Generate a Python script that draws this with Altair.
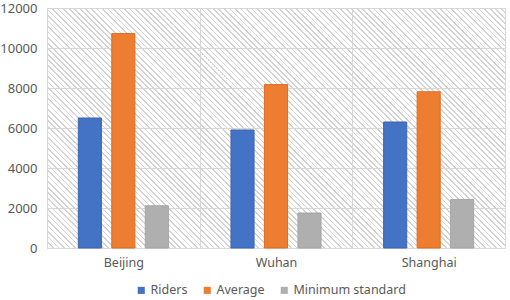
import altair as alt
import pandas as pd

cities = ["Beijing", "Wuhan", "Shanghai"]
series = ["Riders", "Average", "Minimum standard"]
riders = [6500, 5900, 6300]
average = [10720, 8170, 7810]
minimum = [2110, 1750, 2420]
colors = ["#4472C4", "#ED7D31", "#AFAFAF"]
strokes = ["#3B65B2", "#E06C1C", "#A5A5A5"]
y_ticks = [0, 2000, 4000, 6000, 8000, 10000, 12000]

rows = []
for i, c in enumerate(cities):
    for s, vals in zip(series, [riders, average, minimum]):
        rows.append({"city": c, "series": s, "value": vals[i]})
df = pd.DataFrame(rows)

# plot area size
W, H = 458, 240

# diagonal hatch background built as a striped linear gradient (style only)
r = H / W
dx = (1 + r) / (1 + r * r)
dy = -r * dx
N = 126
f = 0.3
clear = "rgba(255,255,255,0)"
hatch = "#d4d4d4"
stops = []
for k in range(N):
    s = k / N
    e = (k + f) / N
    stops += [
        {"offset": s, "color": clear},
        {"offset": s, "color": hatch},
        {"offset": e, "color": hatch},
        {"offset": e, "color": clear},
    ]
stops.append({"offset": 1, "color": clear})
grad = {"gradient": "linear", "x1": 0, "y1": 1, "x2": dx, "y2": 1 + dy, "stops": stops}

bg = alt.Chart(pd.DataFrame({"k": [0]})).mark_rect(fill=grad, strokeWidth=0).encode(
    x=alt.value(0), x2=alt.value("width"), y=alt.value(0), y2=alt.value("height")
)

bars = alt.Chart(df).mark_bar(strokeWidth=1).encode(
    x=alt.X(
        "city:N",
        sort=cities,
        scale=alt.Scale(paddingInner=0, paddingOuter=0),
        axis=alt.Axis(
            title=None, labelAngle=0, tickBand="extent", ticks=False, grid=True,
            gridColor="#d9d9d9", domainColor="#d9d9d9", labelColor="#595959",
            labelFontSize=12.5, labelPadding=8,
        ),
    ),
    xOffset=alt.XOffset(
        "series:N", sort=series,
        scale=alt.Scale(domain=series, paddingInner=0.31, paddingOuter=0.935),
    ),
    y=alt.Y(
        "value:Q",
        scale=alt.Scale(domain=[0, 12000], nice=False),
        axis=alt.Axis(
            values=y_ticks, format="d", title=None, domain=False, ticks=False,
            gridColor="#d9d9d9", labelColor="#595959", labelFontSize=13,
            labelPadding=10,
        ),
    ),
    color=alt.Color(
        "series:N",
        scale=alt.Scale(domain=series, range=colors),
        legend=alt.Legend(
            title=None, orient="none", legendX=88, legendY=276,
            direction="horizontal", symbolType="square", symbolSize=50,
            labelFontSize=12.5, labelColor="#595959", columnPadding=13,
            symbolStrokeWidth=0, labelOffset=3,
        ),
    ),
    stroke=alt.Stroke("series:N", scale=alt.Scale(domain=series, range=strokes), legend=None),
)

chart = alt.layer(bg, bars).properties(
    width=W, height=H, autosize="none",
    padding={"left": 47, "top": 8, "right": 5, "bottom": 52},
).configure_view(stroke=None).configure(font="Noto Sans")

chart.save("out.html", embed_options={"renderer": "svg", "actions": False})
